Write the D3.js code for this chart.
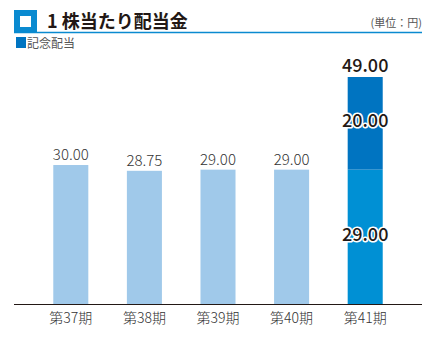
<!DOCTYPE html>
<html><head><meta charset="utf-8">
<script src="https://cdn.jsdelivr.net/npm/d3@7"></script>
<style>body{margin:0;background:#fff}svg{display:block}</style>
</head><body>
<script>
const categories = ["第37期","第38期","第39期","第40期","第41期"];
const regular = [30.00, 28.75, 29.00, 29.00, 29.00];
const commemorative = [0, 0, 0, 0, 20.00];
const valueLabels = ["30.00","28.75","29.00","29.00","49.00"];

const W = 440, H = 338;
const svg = d3.select("body").append("svg").attr("width", W).attr("height", H);
const font = "'Noto Sans CJK JP','Noto Sans',sans-serif";

// Title
svg.append("rect").attr("x",14).attr("y",10).attr("width",23).attr("height",23).attr("fill","#0a8ad0");
svg.append("rect").attr("x",20).attr("y",16).attr("width",11).attr("height",11).attr("fill","#fff");
svg.append("text").attr("x",47).attr("y",28).attr("font-family",font).attr("font-size",18).attr("font-weight","bold")
  .attr("fill","#231815").text("1 株当たり配当金");
svg.append("line").attr("x1",14).attr("x2",422).attr("y1",32.5).attr("y2",32.5).attr("stroke","#0a8ad0").attr("stroke-width",1.5);
svg.append("text").attr("x",422).attr("y",27).attr("text-anchor","end").attr("font-family",font).attr("font-size",11)
  .attr("fill","#555").text("(単位：円)");

// Legend
svg.append("rect").attr("x",16).attr("y",37).attr("width",10).attr("height",11).attr("fill","#0074c1");
svg.append("text").attr("x",27).attr("y",47.5).attr("font-family",font).attr("font-size",12).attr("fill","#555").text("記念配当");

const x = d3.scaleBand().domain(categories).range([34,402]).paddingInner(0.524).paddingOuter(0.262);
const y = d3.scaleLinear().domain([0,49]).range([304,77]);

const light = "#a0c9ea", mid = "#0090d4", dark = "#0074c1";
const g = svg.append("g");
categories.forEach((c,i)=>{
  const last = commemorative[i] > 0;
  g.append("rect").attr("x",x(c)).attr("width",x.bandwidth())
    .attr("y",y(regular[i])).attr("height",y(0)-y(regular[i]))
    .attr("fill", last ? mid : light);
  if (last) {
    const top = regular[i]+commemorative[i];
    g.append("rect").attr("x",x(c)).attr("width",x.bandwidth())
      .attr("y",y(top)).attr("height",y(regular[i])-y(top)).attr("fill",dark);
  }
});

// axis
const axis = d3.axisBottom(x).tickSize(0).tickPadding(7);
const ax = svg.append("g").attr("transform","translate(0,304)").call(axis);
ax.select(".domain").remove();
svg.append("line").attr("x1",14).attr("x2",422).attr("y1",304.5).attr("y2",304.5).attr("stroke","#231815").attr("stroke-width",1);
ax.selectAll("text").attr("font-family",font).attr("font-size",14).attr("font-weight",300).attr("fill","#333").attr("dy","0.85em");

// value labels
categories.forEach((c,i)=>{
  const cx = x(c)+x.bandwidth()/2;
  const last = commemorative[i] > 0;
  const total = regular[i]+commemorative[i];
  svg.append("text").attr("x",cx).attr("y",y(total)-5).attr("text-anchor","middle")
    .attr("font-family",font).attr("font-size", last?18:15).attr("font-weight", last?500:300)
    .attr("fill", last?"#231815":"#333").text(valueLabels[i]);
  if (last) {
    const segs = [[regular[i]+commemorative[i], regular[i], commemorative[i]],[regular[i],0,regular[i]]];
    segs.forEach(s=>{
      const cy = (y(s[0])+y(s[1]))/2;
      svg.append("text").attr("x",cx).attr("y",cy+4).attr("text-anchor","middle")
        .attr("font-family",font).attr("font-size",18).attr("font-weight",500)
        .attr("fill","#231815").attr("stroke","#fff").attr("stroke-width",3).attr("paint-order","stroke")
        .attr("stroke-linejoin","round").text(s[2].toFixed(2));
    });
  }
});
</script>
</body></html>
